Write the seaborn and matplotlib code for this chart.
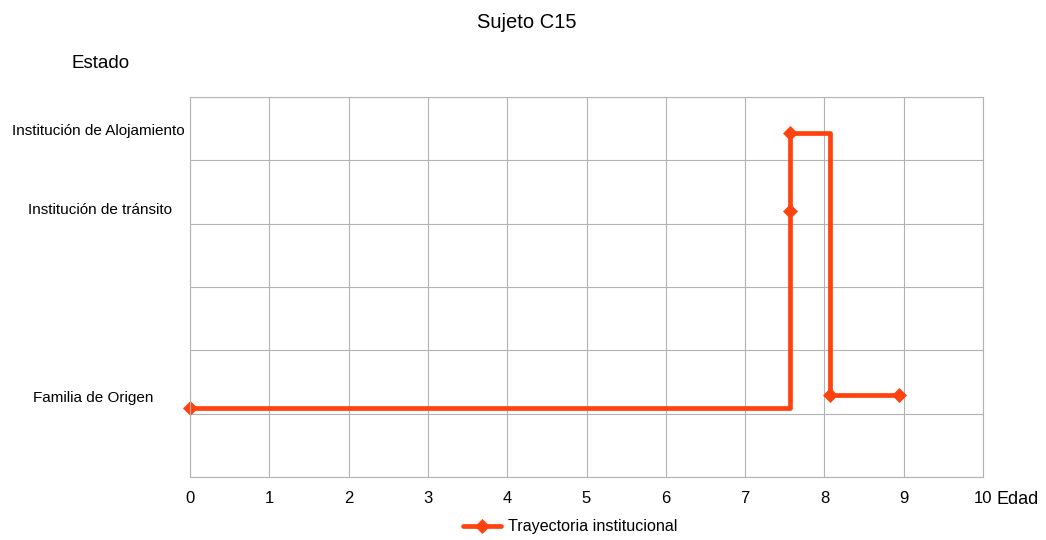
import pandas as pd
import matplotlib
matplotlib.use("Agg")
import matplotlib.pyplot as plt
import seaborn as sns

# trayectoria (edad en años, nivel del estado en el eje y)
EDAD = [0.0, 7.57, 7.57, 8.07, 8.94]
NIVEL = [1.09, 4.20, 5.43, 1.29, 1.29]

# etiquetas de estado y su altura en el eje y
ESTADOS = ['Institución de Alojamiento', 'Institución de tránsito', 'Familia de Origen']
ESTADO_Y = [5.46, 4.22, 1.25]

X_TICKS = list(range(0, 11))
Y_GRID = list(range(0, 7))

TITLE = 'Sujeto C15'
SERIES = 'Trayectoria institucional'
COLOR = '#ff420e'
GRID = '#b3b3b3'

# centro horizontal (px) de cada etiqueta de estado
LABEL_X = [98, 99.5, 93]

sns.set_style("white")
plt.rcParams['font.family'] = ['Liberation Sans', 'DejaVu Sans']
plt.rcParams['text.color'] = '#000000'

df = pd.DataFrame({'edad': EDAD, 'nivel': NIVEL})

fig = plt.figure(figsize=(10.46, 5.4), dpi=100)
ax = fig.add_axes([190 / 1046, 63 / 540, 793 / 1046, 380 / 540])

sns.lineplot(data=df, x='edad', y='nivel', ax=ax, sort=False, estimator=None,
             drawstyle='steps-post', color=COLOR, linewidth=3.4,
             marker='D', markersize=7, markeredgewidth=0.5, markeredgecolor=COLOR,
             label=SERIES, legend=False, clip_on=False)

ax.set_xlim(0, 10)
ax.set_ylim(0, 6)
ax.set_xticks(X_TICKS)
ax.set_yticks(Y_GRID)
ax.set_yticklabels([])
ax.grid(True, color=GRID, linewidth=0.8)
ax.set_axisbelow(True)
ax.set_xlabel('')
ax.set_ylabel('')
for s in ax.spines.values():
    s.set_color(GRID)
    s.set_linewidth(0.8)
ax.tick_params(axis='x', length=6, width=0.8, color=GRID, pad=4, labelsize=12, labelcolor='#000000')
ax.tick_params(axis='y', length=0)

# etiquetas de estado a la izquierda
for lab, y, xp in zip(ESTADOS, ESTADO_Y, LABEL_X):
    yf = ax.transData.transform((0, y))[1] / fig.bbox.height
    fig.text(xp / 1046, yf, lab, ha='center', va='center', fontsize=11)

fig.text(101 / 1046, 1 - 63 / 540, 'Estado', ha='center', va='center', fontsize=13.5)
fig.text(997 / 1046, 1 - 499 / 540, 'Edad', ha='left', va='center', fontsize=13)
fig.text(527 / 1046, 1 - 22 / 540, TITLE, ha='center', va='center', fontsize=14.5)

handles, labels = ax.get_legend_handles_labels()
fig.legend(handles, labels, loc='center', bbox_to_anchor=(570 / 1046, 1 - 527 / 540),
           frameon=False, fontsize=11.6, handlelength=2.4, handletextpad=0.4)

fig.savefig('out.png', dpi=100)
